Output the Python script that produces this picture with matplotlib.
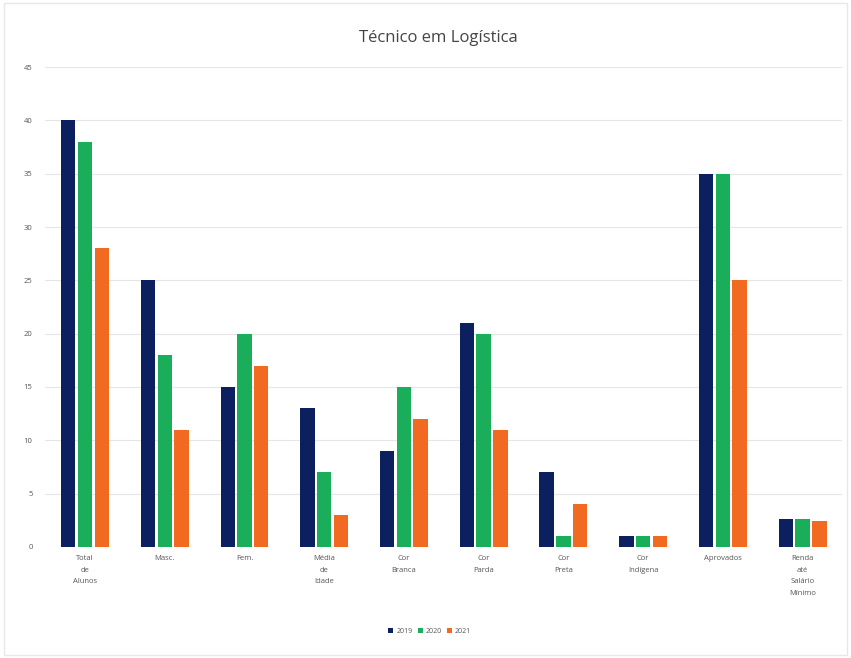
import matplotlib.pyplot as plt
import numpy as np
from matplotlib.patches import Rectangle

# Categories and series
categories = ['Total\nde\nAlunos', 'Masc.', 'Fem.', 'Média\nde\nIdade', 'Cor\nBranca',
              'Cor\nParda', 'Cor\nPreta', 'Cor\nIndígena', 'Aprovados', 'Renda\naté\nSalário\nMínimo']
series_names = ['2019', '2020', '2021']
values_2019 = [40, 25, 15, 13, 9, 21, 7, 1, 35, 2.6]
values_2020 = [38, 18, 20, 7, 15, 20, 1, 1, 35, 2.6]
values_2021 = [28, 11, 17, 3, 12, 11, 4, 1, 25, 2.4]
colors = ['#0c1f5e', '#1bae5a', '#f26a21']

plt.rcParams['font.family'] = ['Open Sans', 'DejaVu Sans']

fig = plt.figure(figsize=(8.51, 6.58), dpi=100, facecolor='white')
ax = fig.add_axes([0.053, 0.169, 0.937, 0.729])

x = np.arange(len(categories))
width = 0.18
gap = 0.03
for i, (vals, name, c) in enumerate(zip([values_2019, values_2020, values_2021], series_names, colors)):
    offset = (i - 1) * (width + gap)
    ax.bar(x + offset, vals, width=width, color=c, label=name, zorder=3)

ax.set_xlim(-0.5, len(categories) - 0.5)
ax.set_ylim(0, 45)
ax.set_yticks(np.arange(0, 46, 5))
ax.set_xticks(x)
ax.set_xticklabels(categories, fontsize=5.5, color='#555555', linespacing=1.9)
ax.tick_params(axis='y', labelsize=5.5, colors='#555555', length=0, pad=9)
ax.tick_params(axis='x', length=0, pad=6)
ax.grid(axis='y', color='#e6e6e6', linewidth=0.8, zorder=0)
for s in ax.spines.values():
    s.set_visible(False)

fig.text(0.515, 0.942, 'Técnico em Logística', ha='center', va='center', fontsize=12, color='#444444')

fig.legend(loc='center', bbox_to_anchor=(0.505, 0.04), ncol=3, fontsize=5, frameon=False,
           handlelength=0.7, handleheight=0.7, handletextpad=0.4, columnspacing=0.8,
           labelcolor='#555555')

# light frame around the figure
fig.patches.append(Rectangle((0.005, 0.005), 0.99, 0.99, transform=fig.transFigure,
                             fill=False, edgecolor='#e8e8e8', linewidth=1))

fig.savefig('out.png', dpi=100)
